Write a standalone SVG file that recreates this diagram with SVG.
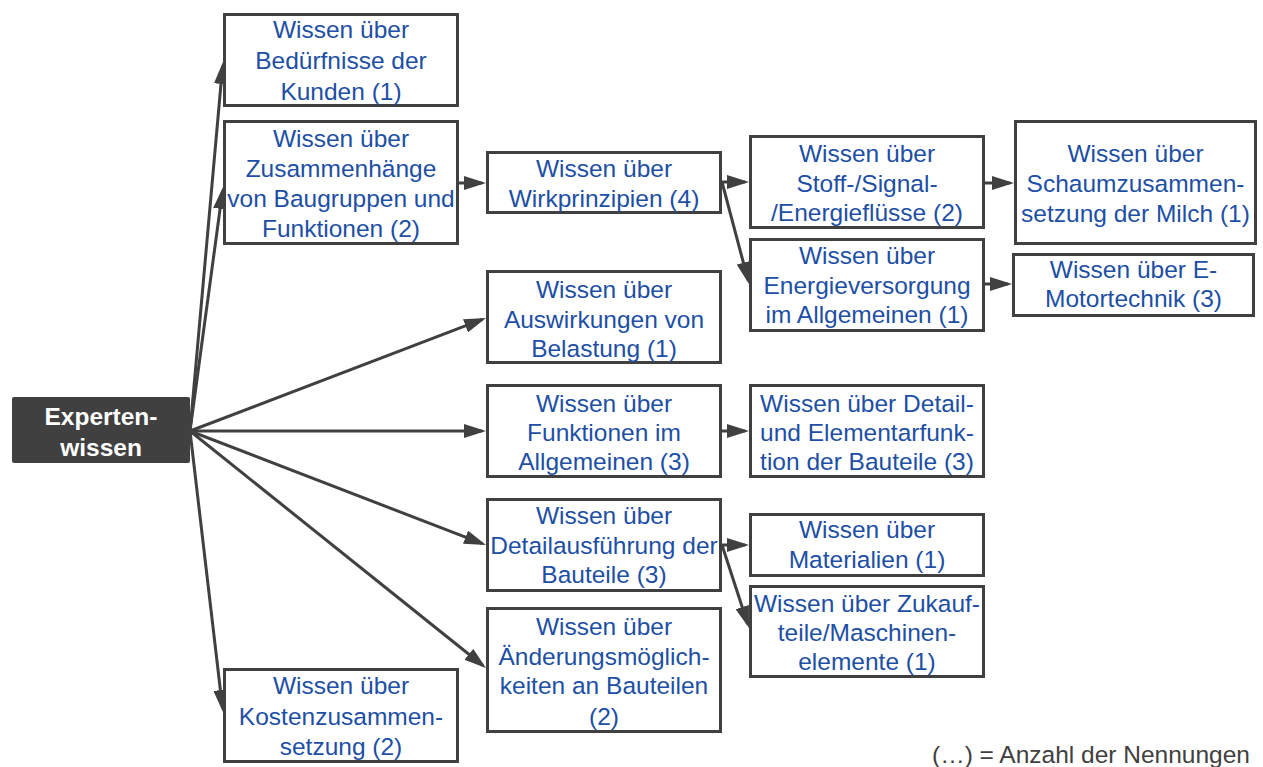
<svg xmlns="http://www.w3.org/2000/svg" width="1263" height="767" viewBox="0 0 1263 767">
  <style>
    .box { fill: #ffffff; stroke: #404040; stroke-width: 3; }
    .root { fill: #404040; stroke: none; }
    .lbl { font-family: "Liberation Sans", Arial, sans-serif; font-size: 24.5px; fill: #1d4fa5; text-anchor: middle; }
    .rootlbl { font-family: "Liberation Sans", Arial, sans-serif; font-size: 24.5px; font-weight: bold; fill: #ffffff; text-anchor: middle; }
    .legend { font-family: "Liberation Sans", Arial, sans-serif; font-size: 24.5px; fill: #404040; text-anchor: end; }
    .edge { stroke: #404040; stroke-width: 3; fill: none; marker-end: url(#arrow); }
  </style>
  <defs>
    <marker id="arrow" viewBox="0 0 22 14" markerWidth="22" markerHeight="14" refX="18" refY="7" markerUnits="userSpaceOnUse" orient="auto">
      <path d="M0,0 L22,7 L0,14 z" fill="#404040"/>
    </marker>
  </defs>

  <rect width="1263" height="767" fill="#ffffff"/>

  <!-- connectors -->
  <g id="connectors">
    <line class="edge" x1="190" y1="431" x2="222.6" y2="66"/>
    <line class="edge" x1="190" y1="431" x2="222.5" y2="191"/>
    <line class="edge" x1="190" y1="431" x2="482.3" y2="319.4"/>
    <line class="edge" x1="190" y1="431" x2="482" y2="431"/>
    <line class="edge" x1="190" y1="431" x2="482.3" y2="543.6"/>
    <line class="edge" x1="190" y1="431" x2="482.9" y2="665.5"/>
    <line class="edge" x1="190" y1="431" x2="222.5" y2="708"/>
    <line class="edge" x1="459" y1="183" x2="482" y2="183"/>
    <line class="edge" x1="722" y1="182" x2="745" y2="182"/>
    <line class="edge" x1="722" y1="182" x2="748" y2="280.1"/>
    <line class="edge" x1="985" y1="183" x2="1010" y2="183"/>
    <line class="edge" x1="985" y1="284" x2="1008" y2="284"/>
    <line class="edge" x1="722" y1="431" x2="745" y2="431"/>
    <line class="edge" x1="722" y1="545" x2="745" y2="545"/>
    <line class="edge" x1="722" y1="545" x2="747.8" y2="624.2"/>
  </g>

  <!-- root node -->
  <g id="expertenwissen">
    <rect class="root" x="12" y="397" width="178" height="66" rx="2"/>
    <text class="rootlbl" x="101" y="425">Experten-</text>
    <text class="rootlbl" x="101" y="456">wissen</text>
  </g>

  <g id="beduerfnisse">
    <rect class="box" x="224.5" y="14.5" width="233" height="91"/>
    <text class="lbl" x="341" y="38">Wissen über</text>
    <text class="lbl" x="341" y="69">Bedürfnisse der</text>
    <text class="lbl" x="341" y="100">Kunden (1)</text>
  </g>

  <g id="zusammenhaenge">
    <rect class="box" x="224.5" y="121.5" width="233" height="122"/>
    <text class="lbl" x="341" y="147">Wissen über</text>
    <text class="lbl" x="341" y="177">Zusammenhänge</text>
    <text class="lbl" x="341" y="207">von Baugruppen und</text>
    <text class="lbl" x="341" y="237">Funktionen (2)</text>
  </g>

  <g id="wirkprinzipien">
    <rect class="box" x="487.5" y="152.5" width="233" height="60"/>
    <text class="lbl" x="604" y="177">Wissen über</text>
    <text class="lbl" x="604" y="207">Wirkprinzipien (4)</text>
  </g>

  <g id="energiefluesse">
    <rect class="box" x="750.5" y="136.5" width="233" height="91"/>
    <text class="lbl" x="867" y="162">Wissen über</text>
    <text class="lbl" x="867" y="192">Stoff-/Signal-</text>
    <text class="lbl" x="867" y="221">/Energieflüsse (2)</text>
  </g>

  <g id="energieversorgung">
    <rect class="box" x="750.5" y="239.5" width="233" height="91"/>
    <text class="lbl" x="867" y="264">Wissen über</text>
    <text class="lbl" x="867" y="294">Energieversorgung</text>
    <text class="lbl" x="867" y="323">im Allgemeinen (1)</text>
  </g>

  <g id="schaum">
    <rect class="box" x="1015.5" y="121.5" width="240" height="122"/>
    <text class="lbl" x="1135.5" y="162">Wissen über</text>
    <text class="lbl" x="1135.5" y="192">Schaumzusammen-</text>
    <text class="lbl" x="1135.5" y="222">setzung der Milch (1)</text>
  </g>

  <g id="emotor">
    <rect class="box" x="1013.5" y="254.5" width="240" height="61"/>
    <text class="lbl" x="1133.5" y="278">Wissen über E-</text>
    <text class="lbl" x="1133.5" y="307">Motortechnik (3)</text>
  </g>

  <g id="belastung">
    <rect class="box" x="487.5" y="271.5" width="233" height="91"/>
    <text class="lbl" x="604" y="298">Wissen über</text>
    <text class="lbl" x="604" y="328">Auswirkungen von</text>
    <text class="lbl" x="604" y="357">Belastung (1)</text>
  </g>

  <g id="funktionen">
    <rect class="box" x="487.5" y="385.5" width="233" height="91"/>
    <text class="lbl" x="604" y="412">Wissen über</text>
    <text class="lbl" x="604" y="441">Funktionen im</text>
    <text class="lbl" x="604" y="470">Allgemeinen (3)</text>
  </g>

  <g id="elementarfunktion">
    <rect class="box" x="750.5" y="385.5" width="233" height="91"/>
    <text class="lbl" x="867" y="412">Wissen über Detail-</text>
    <text class="lbl" x="867" y="441">und Elementarfunk-</text>
    <text class="lbl" x="867" y="470">tion der Bauteile (3)</text>
  </g>

  <g id="detailausfuehrung">
    <rect class="box" x="487.5" y="499.5" width="233" height="91"/>
    <text class="lbl" x="604" y="524">Wissen über</text>
    <text class="lbl" x="604" y="554">Detailausführung der</text>
    <text class="lbl" x="604" y="583">Bauteile (3)</text>
  </g>

  <g id="materialien">
    <rect class="box" x="750.5" y="514.5" width="233" height="61"/>
    <text class="lbl" x="867" y="538">Wissen über</text>
    <text class="lbl" x="867" y="568">Materialien (1)</text>
  </g>

  <g id="zukaufteile">
    <rect class="box" x="750.5" y="586.5" width="233" height="90"/>
    <text class="lbl" x="867" y="612">Wissen über Zukauf-</text>
    <text class="lbl" x="867" y="641">teile/Maschinen-</text>
    <text class="lbl" x="867" y="670">elemente (1)</text>
  </g>

  <g id="aenderungen">
    <rect class="box" x="487.5" y="608.5" width="233" height="123"/>
    <text class="lbl" x="604" y="635">Wissen über</text>
    <text class="lbl" x="604" y="665">Änderungsmöglich-</text>
    <text class="lbl" x="604" y="694">keiten an Bauteilen</text>
    <text class="lbl" x="604" y="725">(2)</text>
  </g>

  <g id="kosten">
    <rect class="box" x="224.5" y="669.5" width="233" height="92"/>
    <text class="lbl" x="341" y="694">Wissen über</text>
    <text class="lbl" x="341" y="725">Kostenzusammen-</text>
    <text class="lbl" x="341" y="755">setzung (2)</text>
  </g>

  <text class="legend" x="1250" y="763">(…) = Anzahl der Nennungen</text>
</svg>
